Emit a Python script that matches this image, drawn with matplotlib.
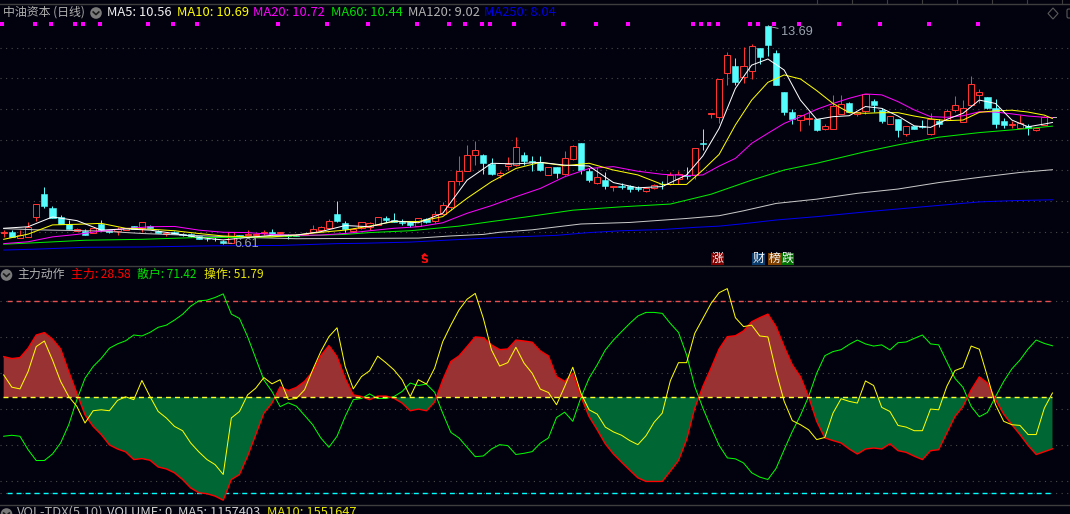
import numpy as np
import matplotlib
matplotlib.use('Agg')
import matplotlib.pyplot as plt
from matplotlib.patches import Circle, Polygon, Rectangle, FancyBboxPatch

plt.rcParams['font.family'] = ['Noto Sans CJK SC', 'DejaVu Sans']

opens = [6.96,6.98,6.78,6.81,7.47,8.23,7.76,7.48,7.24,7.03,7.03,6.94,7.26,7.05,7.03,7.07,7.17,7.12,7.20,7.03,
         6.92,7.00,6.93,6.91,6.86,6.76,6.76,6.70,6.62,6.89,6.90,6.90,6.94,6.99,6.94,6.90,6.90,6.89,7.00,7.06,
         7.13,7.57,7.27,7.03,7.11,7.14,7.22,7.43,7.38,7.33,7.33,7.19,7.40,7.36,7.59,7.79,8.64,8.99,9.49,9.50,
         9.22,8.84,9.15,9.17,9.50,9.29,9.26,8.86,9.10,8.88,9.36,9.89,8.98,8.59,8.68,8.47,8.49,8.49,8.41,8.34,
         8.43,8.57,8.55,8.72,8.85,8.84,9.89,10.84,10.75,12.16,12.40,12.05,12.25,12.99,13.71,12.83,11.55,10.90,10.64,10.67,
         10.67,10.34,10.34,10.84,11.19,10.83,10.92,11.25,10.96,10.52,10.67,10.20,10.46,10.45,10.20,10.61,10.65,10.98,10.59,11.12,
         11.45,11.39,11.03,10.61,10.49,10.39,10.44,10.30,10.49]
highs = [7.07,7.05,7.05,7.30,7.89,8.46,7.84,7.54,7.38,7.12,7.08,7.11,7.38,7.07,7.16,7.13,7.18,7.30,7.21,7.07,
         6.94,7.01,6.94,6.97,6.87,6.83,6.83,6.72,6.98,6.90,7.05,6.94,7.05,7.09,6.99,6.91,6.91,6.93,7.22,7.18,
         7.41,8.00,7.35,7.13,7.31,7.30,7.48,7.51,7.60,7.40,7.34,7.44,7.43,7.68,7.98,8.64,9.47,9.83,9.96,9.53,
         9.40,8.97,9.42,10.09,9.60,9.47,9.47,9.11,9.11,9.63,9.83,9.89,9.06,9.12,8.94,8.49,8.60,8.52,8.49,8.42,
         8.55,8.64,8.94,8.97,9.10,9.72,10.34,10.86,11.97,12.86,12.66,13.01,13.12,12.99,13.75,12.91,11.55,11.01,10.79,10.90,
         10.67,10.50,11.46,11.46,11.24,10.91,11.48,11.34,11.02,10.78,10.67,10.43,10.46,10.64,10.86,10.66,11.00,11.41,11.29,12.07,
         11.64,11.39,11.33,10.71,10.62,10.81,10.51,10.40,10.76]
lows = [6.81,6.81,6.78,6.81,7.36,7.78,7.43,7.25,7.09,7.01,6.88,6.94,7.03,6.97,6.90,7.06,7.09,7.00,7.11,6.94,
        6.87,6.92,6.87,6.83,6.76,6.68,6.68,6.61,6.62,6.80,6.88,6.86,6.89,6.89,6.93,6.77,6.85,6.88,6.98,7.05,
        7.11,7.33,6.98,6.98,7.10,7.05,7.21,7.33,7.32,7.22,7.16,7.18,7.29,7.29,7.56,7.70,8.52,8.98,9.17,8.88,
        8.85,8.75,9.01,9.14,9.17,8.98,8.98,8.85,8.75,8.85,9.34,8.88,8.62,8.55,8.39,8.33,8.39,8.30,8.33,8.30,
        8.39,8.39,8.53,8.55,8.71,8.71,9.66,10.72,10.55,11.79,11.77,11.84,11.99,12.46,12.74,11.79,10.81,10.52,10.29,10.49,
        10.29,10.33,10.34,10.84,10.89,10.76,10.83,10.91,10.55,10.52,10.09,10.13,10.35,10.37,10.16,10.42,10.64,10.90,10.59,11.12,
        11.18,11.01,10.39,10.39,10.38,10.38,10.16,10.29,10.48]
closes = [6.98,6.83,6.89,7.16,7.89,7.84,7.45,7.25,7.09,7.08,6.90,7.11,7.05,6.99,7.10,7.12,7.10,7.30,7.12,6.97,
          6.94,6.93,6.88,6.85,6.77,6.75,6.75,6.63,6.98,6.81,6.92,6.92,6.98,6.92,6.98,6.86,6.86,6.92,7.08,7.16,
          7.34,7.36,7.09,7.08,7.30,7.27,7.47,7.38,7.33,7.29,7.22,7.43,7.33,7.56,7.87,8.64,8.97,9.49,9.65,9.24,
          8.88,8.90,9.19,9.75,9.29,9.26,9.01,9.10,8.91,9.39,9.78,9.01,8.68,8.77,8.49,8.49,8.47,8.40,8.39,8.42,
          8.51,8.55,8.86,8.89,8.83,9.72,9.87,10.86,11.97,12.75,11.88,12.39,13.04,12.70,13.09,11.79,10.91,10.67,10.79,10.71,
          10.33,10.43,11.11,11.15,10.90,10.91,11.48,11.12,10.62,10.76,10.33,10.43,10.36,10.41,10.68,10.51,10.94,11.12,11.02,11.80,
          11.54,11.03,10.51,10.49,10.52,10.53,10.37,10.39,10.75]
# last session has no volume, price is just a flat dash
last_bar = 129
last_price = 10.75

ma_idx = list(range(0, 84, 3)) + list(range(84, 129, 2)) + [129]
ma5 = [7.11,7.16,7.48,7.36,7.05,7.09,7.05,6.94,6.81,6.73,6.81,6.88,6.89,7.00,7.20,7.16,7.35,7.29,7.60,8.68,
       9.23,9.21,9.26,9.17,9.14,8.60,8.43,8.47,8.85,9.47,10.37,11.67,12.43,12.63,12.27,11.29,10.66,10.75,10.78,11.08,
       11.02,10.77,10.45,10.40,10.66,10.86,11.29,11.18,10.64,10.42,10.51,10.56]
ma10 = [6.75,6.92,7.22,7.24,7.27,7.11,7.08,7.03,6.94,6.86,6.83,6.83,6.89,6.98,7.05,7.18,7.33,7.33,7.49,8.09,
        8.63,9.06,9.26,9.15,9.23,9.01,8.85,8.54,8.54,9.01,9.52,10.48,11.29,11.87,12.11,11.98,11.60,11.18,10.88,10.86,
        10.88,10.88,10.77,10.68,10.62,10.64,10.89,10.94,10.96,10.90,10.80,10.69]
ma20 = [6.61,6.67,6.83,6.91,7.02,7.10,7.16,7.17,7.05,6.98,6.97,6.91,6.88,6.89,6.94,7.03,7.11,7.16,7.29,7.60,
        7.85,8.14,8.41,8.79,9.06,9.12,8.97,8.87,8.83,8.85,9.14,9.39,9.88,10.21,10.53,10.75,10.99,11.18,11.35,11.49,
        11.46,11.24,10.97,10.75,10.73,10.78,10.91,10.90,10.84,10.77,10.73,10.72]
ma60_idx = [0,4,7,10,17,24,30,36,42,45,50,56,60,64,70,76,82,87,92,96,100,106,110,115,120,125,129]
ma60 = [6.59,6.64,6.68,6.72,6.75,6.81,6.81,6.86,6.91,6.97,7.03,7.18,7.33,7.47,7.70,7.81,7.90,8.22,8.68,9.01,
        9.23,9.61,9.83,10.08,10.23,10.34,10.44]
ma120_idx = [0,4,12,17,24,30,36,44,51,55,59,61,65,71,77,84,88,91,95,100,105,110,115,120,125,129]
ma120 = [7.10,7.06,7.02,6.94,6.87,6.81,6.77,6.78,6.79,6.86,6.91,6.98,7.06,7.25,7.30,7.43,7.52,7.68,7.92,8.06,
         8.25,8.39,8.60,8.77,8.93,9.02]
ma250_idx = [0,4,10,17,26,34,41,44,50,55,61,68,72,76,81,85,88,91,95,100,107,113,120,124,129]
ma250 = [6.40,6.43,6.49,6.50,6.54,6.55,6.61,6.62,6.66,6.73,6.81,6.88,6.97,7.03,7.07,7.14,7.18,7.26,7.38,7.49,
         7.67,7.81,7.97,8.01,8.04]

signal_bars = [0,4,6,9,10,12,18,21,24,34,40,45,51,55,57,59,60,63,69,73,77,85,86,87,88,92,93,95,98,103,108,114,120]
signal_price = 13.76

zhuli = [66.9,66.1,66.5,70.4,75.9,76.9,74.2,70.1,60.7,51.7,42.7,37.9,34.5,30.2,28.5,27.3,24.1,24.5,23.8,21.0,
         20.2,18.6,15.8,12.3,10.3,9.9,8.9,7.2,15.8,17.9,25.5,34.5,43.4,47.6,54.3,52.8,54.1,56.6,60.7,67.3,
         71.5,66.9,57.9,51.0,50.3,49.0,50.5,50.5,49.6,47.6,44.4,45.1,44.4,48.0,57.2,64.9,67.2,71.1,75.1,74.8,
         71.8,69.8,70.1,73.8,73.4,72.9,69.3,67.2,58.6,56.6,60.0,50.3,42.0,36.5,30.6,26.4,23.0,19.7,16.5,15.0,
         15.0,15.0,19.3,23.7,32.4,45.5,54.5,62.1,70.1,75.2,75.6,77.6,81.4,83.1,84.6,79.4,71.1,63.5,58.6,50.3,
         40.0,33.1,32.0,31.0,28.5,26.4,28.5,28.9,28.5,30.7,27.8,27.1,25.5,24.1,27.8,28.2,35.1,42.0,46.2,53.1,
         58.5,55.9,49.0,43.0,38.6,34.5,30.0,26.2,27.4,28.58]
sanhu = [33.8,34.2,33.8,28.2,23.7,23.7,26.4,31.0,38.6,49.0,57.9,62.8,66.2,70.4,72.2,73.5,75.9,75.5,77.0,79.1,
         80.0,82.1,84.5,87.9,90.1,90.4,91.5,93.0,84.6,82.8,75.2,66.2,57.2,52.4,46.1,47.7,46.3,42.5,38.6,33.1,
         29.2,33.8,42.0,49.0,49.5,51.4,49.5,49.5,50.3,52.4,55.9,54.9,55.5,52.1,43.4,35.4,33.1,29.2,25.3,25.6,
         28.5,30.3,29.9,26.2,26.7,27.4,30.9,33.1,41.6,43.8,40.0,49.9,57.9,63.5,69.7,73.8,77.3,80.7,83.8,85.3,
         85.3,84.9,80.7,77.0,67.6,54.5,45.5,37.5,30.0,24.8,24.4,22.7,18.6,16.8,15.8,20.4,28.2,35.8,42.5,50.3,
         60.0,67.3,69.0,69.8,72.0,73.8,72.2,71.3,71.8,69.7,72.7,73.0,74.5,75.9,72.2,71.8,64.9,57.9,54.1,46.2,
         41.9,43.7,50.3,56.6,61.8,65.5,70.1,73.8,72.4,71.42]
caozuo = [59.3,54.2,53.5,60.7,71.1,73.4,65.5,56.6,50.3,46.2,39.3,44.4,44.8,44.4,48.7,50.2,49.0,57.0,50.3,44.1,
          41.4,37.9,36.1,31.0,27.3,24.1,22.0,17.9,41.4,44.1,51.0,53.8,58.2,55.6,57.3,49.1,49.5,53.1,61.4,69.0,
          75.2,78.9,62.8,53.5,58.6,61.0,67.1,64.4,61.4,57.3,50.3,57.3,55.5,62.1,73.1,80.0,86.3,90.8,93.2,82.8,
          69.7,63.0,64.4,70.8,64.2,60.0,53.4,52.0,46.9,54.5,62.5,51.7,44.8,43.0,37.6,35.6,34.2,32.0,30.3,34.0,
          39.6,43.4,56.9,64.4,64.4,76.6,82.8,89.0,93.5,95.2,83.1,79.4,80.0,75.5,75.1,60.7,48.3,40.3,38.6,36.5,
          32.4,33.3,43.4,49.4,48.3,47.6,56.8,54.9,45.8,44.1,38.3,37.6,36.1,36.1,45.1,44.8,54.5,61.1,62.4,71.3,
          70.0,58.6,46.9,40.0,38.6,38.3,34.5,34.5,45.5,51.79]

price_grid = [7, 8, 9, 10, 11, 12, 13]
panel_grid = [15, 30, 45, 60, 75]
low_label = '6.61'
high_label = '13.69'

BG = '#02020f'
RED = '#ff3232'
CYAN = '#54fcfc'
W, H = 1070, 514
BAR_PX = 8.13
X0_PX = 3.7
xlim = (-X0_PX / BAR_PX, (W - X0_PX) / BAR_PX)
THIN = 0.72
DASH = (0, (3.6, 2.9))

fig = plt.figure(figsize=(W / 100, H / 100), dpi=100, facecolor=BG)

def pane(top, bottom):
    ax = fig.add_axes([0, 1 - bottom / H, 1, (bottom - top) / H], facecolor=BG)
    ax.set_xlim(*xlim)
    ax.axis('off')
    return ax

# main price pane
ax = pane(3.5, 266)
ax.set_ylim(5.88, 14.44)
for p in price_grid:
    ax.axhline(p, color='#4a4a4a', lw=0.8, ls=(0, (1, 4)), zorder=1)

bars = np.arange(len(opens))
o, h, l, c = map(np.array, (opens, highs, lows, closes))
up = c >= o
ax.vlines(bars[up], l[up], h[up], color=RED, lw=0.72, zorder=2)
ax.vlines(bars[~up], l[~up], h[~up], color=CYAN, lw=0.72, zorder=2)
ax.bar(bars[up], np.maximum(c - o, 0.02)[up], bottom=o[up], width=0.76, facecolor=BG,
       edgecolor=RED, lw=0.72, zorder=3)
ax.bar(bars[~up], (o - c)[~up], bottom=c[~up], width=0.76, facecolor=CYAN,
       edgecolor=CYAN, lw=0.4, zorder=3)
ax.plot([last_bar - 0.4, last_bar + 0.4], [last_price, last_price], color='#b8b8b8', lw=0.72, zorder=3)

ax.plot(ma250_idx, ma250, color='#0000f0', lw=THIN, zorder=4)
ax.plot(ma120_idx, ma120, color='#c8c8c8', lw=THIN, zorder=4)
ax.plot(ma60_idx, ma60, color='#00f000', lw=THIN, zorder=4)
ax.plot(ma_idx, ma20, color='#ff00ff', lw=THIN, zorder=5)
ax.plot(ma_idx, ma10, color='#ffff00', lw=THIN, zorder=6)
ax.plot(ma_idx, ma5, color='#ffffff', lw=THIN, zorder=7)

ax.scatter(np.array(signal_bars) - 0.2, [signal_price] * len(signal_bars), marker='s', s=5,
           color='#ff00ff', lw=0, zorder=8)

ax.annotate(low_label, xy=(27, 6.63), xytext=(28.4, 6.61), color='#9aa4ae', fontsize=9.2,
            va='center', family=['Liberation Sans'], zorder=10,
            arrowprops=dict(arrowstyle='-', color='#bbbbbb', lw=0.6, shrinkA=0, shrinkB=0))
ax.annotate(high_label, xy=(94, 13.7), xytext=(95.6, 13.5), color='#9aa4ae', fontsize=9.2,
            va='center', family=['Liberation Sans'], zorder=10,
            arrowprops=dict(arrowstyle='-', color='#bbbbbb', lw=0.6, shrinkA=0, shrinkB=0))

# lower indicator pane
ax2 = pane(266, 505)
ax2.set_ylim(5.2, 104.6)
for v in panel_grid:
    ax2.axhline(v, color='#4a4a4a', lw=0.8, ls=(0, (1, 4)), zorder=1)
for v, col in ((90, '#e85050'), (10, '#00ffff')):
    ax2.axhline(v, color='#4a4a4a', lw=0.8, ls=(0, (1, 4)), zorder=1)
    ax2.plot([xlim[0] + 0.8, 129], [v, v], color=col, lw=1.0, ls=DASH, zorder=2)

xs = np.arange(len(zhuli))
zl = np.array(zhuli)
ax2.fill_between(xs, zl, 50, where=zl >= 50, interpolate=True, color='#993333', lw=0, zorder=3)
ax2.fill_between(xs, zl, 50, where=zl <= 50, interpolate=True, color='#006633', lw=0, zorder=3)
ax2.plot([xlim[0] + 0.4, 129], [50, 50], color='#ffff30', lw=1.0, ls=DASH, zorder=6)
ax2.plot(xs, sanhu, color='#00ff00', lw=THIN, zorder=4)
ax2.plot(xs, zhuli, color='#ff0000', lw=1.0, zorder=5)
ax2.plot(xs, caozuo, color='#ffff00', lw=THIN, zorder=7)

# chrome, in pixel coordinates
top = fig.add_axes([0, 0, 1, 1], facecolor='none')
top.set_xlim(0, W)
top.set_ylim(H, 0)
top.axis('off')
for y in (3.5, 266, 505):
    top.plot([0, W], [y, y], color='#3e3e3e', lw=1.0)
for x in range(817, 1070, 35):
    top.plot([x, x], [0, 3.5], color='#3e3e3e', lw=0.8)

def label(x, y, s, color, size=9.3):
    top.text(x, y, s, color=color, fontsize=size, va='center', ha='left',
             family=['Noto Sans CJK SC', 'DejaVu Sans'], clip_on=False)

def drop_icon(x, y):
    top.add_patch(Circle((x, y), 5.8, color='#7a7a7a', lw=0))
    top.plot([x - 2.8, x, x + 2.8], [y - 1, y + 1.6, y - 1], color='#1a1a1a', lw=1.2)

label(3, 12.5, '中油资本 (日线)', '#b0b0b0', 8.6)
drop_icon(96, 13)
label(107, 12.5, 'MA5: 10.56', '#f0f0f0')
label(177, 12.5, 'MA10: 10.69', '#ffff00')
label(253, 12.5, 'MA20: 10.72', '#ff00ff')
label(331, 12.5, 'MA60: 10.44', '#00e000')
label(408, 12.5, 'MA120: 9.02', '#b0b0b0')
label(484, 12.5, 'MA250: 8.04', '#0000e0')

drop_icon(6.5, 275)
label(17, 274.5, '主力动作', '#b0b0b0', 8.6)
label(71, 274.5, '主力: 28.58', '#ff0000', 8.6)
label(137, 274.5, '散户: 71.42', '#00e000', 8.6)
label(204, 274.5, '操作: 51.79', '#e8e800', 8.6)

drop_icon(6.5, 514)
label(17, 512.5, 'VOL-TDX(5,10)', '#b0b0b0')
label(107, 512.5, 'VOLUME: 0', '#d0d0d0')
label(178, 512.5, 'MA5: 1157403', '#d0d0d0')
label(267, 512.5, 'MA10: 1551647', '#e8e800')

top.add_patch(Polygon([(1053, 8), (1058, 13.5), (1053, 19), (1048, 13.5)], fill=False, ec='#5a5a5a', lw=0.8))
top.add_patch(FancyBboxPatch((1067, 9), 6, 9, boxstyle='round,pad=0,rounding_size=1.5', fill=False,
                             ec='#5a5a5a', lw=0.8))

# event tags above the separator
top.text(424.5, 260, 'S', color='#ff1010', fontsize=8, fontweight='bold', ha='center', va='center',
         family=['DejaVu Sans'])
top.add_patch(Polygon([(421, 256), (424.5, 253), (428, 256)], color='#ff1010', lw=0))
for x0, s, col in ((711, '涨', '#800000'), (752, '财', '#0a3c6e'), (768, '榜', '#804000'), (781, '跌', '#007000')):
    top.add_patch(Rectangle((x0, 252.5), 12.8, 12.5, color=col, lw=0))
    top.text(x0 + 6.4, 258.5, s, color='#f4f4f4', fontsize=8.6, ha='center', va='center',
             family=['Noto Sans CJK SC'])

fig.savefig('out.png', dpi=100, facecolor=BG)
